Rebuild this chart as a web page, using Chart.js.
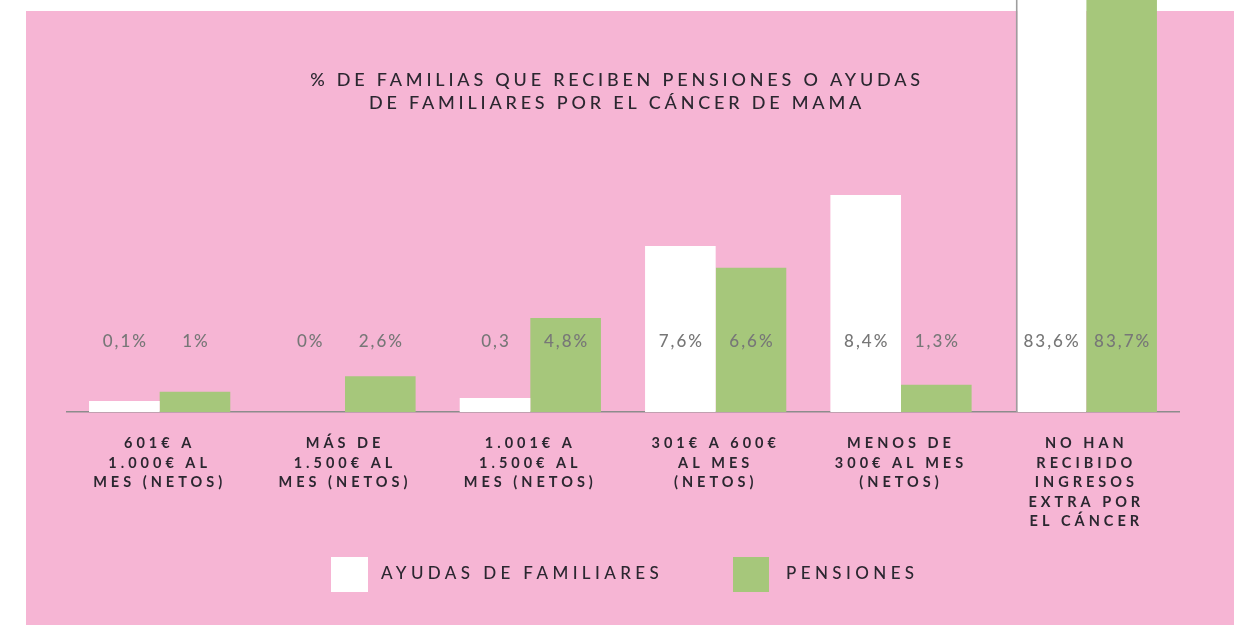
<!DOCTYPE html>
<html>
<head>
<meta charset="utf-8">
<script src="https://cdn.jsdelivr.net/npm/chart.js@4.4.0/dist/chart.umd.min.js"></script>
<style>
  html, body { margin: 0; padding: 0; background: #fff; }
  #bg { position: absolute; left: 26px; top: 11px; width: 1208px; height: 614px; background: #f6b5d4; }
  #wrap { position: absolute; left: 0; top: 0; width: 1245px; height: 625px; }
</style>
</head>
<body>
<div id="bg"></div>
<div id="wrap"><canvas id="FamiliasChart"></canvas></div>
<script>
const titleLines = ['% DE FAMILIAS QUE RECIBEN PENSIONES O AYUDAS', 'DE FAMILIARES POR EL CÁNCER DE MAMA'];

const categories = [
    ['601€ A', '1.000€ AL', 'MES (NETOS)'],
    ['MÁS DE', '1.500€ AL', 'MES (NETOS)'],
    ['1.001€ A', '1.500€ AL', 'MES (NETOS)'],
    ['301€ A 600€', 'AL MES', '(NETOS)'],
    ['MENOS DE', '300€ AL MES', '(NETOS)'],
    ['NO HAN', 'RECIBIDO', 'INGRESOS', 'EXTRA POR', 'EL CÁNCER']
];

const seriesNames = ['AYUDAS DE FAMILIARES', 'PENSIONES'];

// texts printed above the bars
const ayudasLabels = ['0,1%', '0%', '0,3', '7,6%', '8,4%', '83,6%'];
const pensionesLabels = ['1%', '2,6%', '4,8%', '6,6%', '1,3%', '83,7%'];

// bar heights as drawn in the picture (the original is not to scale)
const ayudasBars = [2.7, 0, 3.4, 40.3, 52.7, 110];
const pensionesBars = [4.9, 8.7, 22.8, 35, 6.6, 110];

const white = '#ffffff';
const green = '#a6c77b';
const fontName = 'Lato, "Open Sans", sans-serif';

const textPlugin = {
    id: 'textPlugin',
    beforeUpdate(chart) { chart.ctx.letterSpacing = '4px'; },
    beforeDraw(chart) { chart.ctx.letterSpacing = '4px'; },
    afterDatasetsDraw(chart) {
        const ctx = chart.ctx;
        ctx.save();
        ctx.letterSpacing = '2px';
        ctx.font = '500 17px ' + fontName;
        ctx.fillStyle = '#777777';
        ctx.textAlign = 'center';
        ctx.textBaseline = 'middle';
        const y = chart.scales.x.top - 70;
        [ayudasLabels, pensionesLabels].forEach(function (labs, d) {
            chart.getDatasetMeta(d).data.forEach(function (bar, i) {
                ctx.fillText(labs[i], bar.x + 1, y);
            });
        });
        ctx.restore();
    },
    afterDraw(chart) {
        const ctx = chart.ctx;
        ctx.save();
        // title
        ctx.letterSpacing = '3.8px';
        ctx.font = '500 18px ' + fontName;
        ctx.fillStyle = '#2b2730';
        ctx.textAlign = 'center';
        ctx.textBaseline = 'middle';
        ctx.fillText(titleLines[0], 617, 80);
        ctx.fillText(titleLines[1], 617, 103);
        // legend
        ctx.letterSpacing = '4.4px';
        ctx.font = '500 17px ' + fontName;
        ctx.textAlign = 'left';
        ctx.fillStyle = white;
        ctx.fillRect(331, 557, 37, 35);
        ctx.fillStyle = green;
        ctx.fillRect(733, 557, 36, 35);
        ctx.fillStyle = '#2b2730';
        ctx.fillText(seriesNames[0], 381, 574);
        ctx.fillText(seriesNames[1], 786, 574);
        ctx.restore();
    }
};

const chart1 = new Chart(
    document.getElementById('FamiliasChart'),
    {
        type: 'bar',
        data: {
            labels: categories,
            datasets: [{
                label: seriesNames[0],
                data: ayudasBars,
                backgroundColor: white,
                borderColor: '#9e9e9e',
                borderWidth: function (c) { return c.dataIndex === 5 ? { left: 2, top: 0, right: 0, bottom: 0 } : 0; },
                borderSkipped: false
            }, {
                label: seriesNames[1],
                data: pensionesBars,
                backgroundColor: green,
                borderWidth: 0
            }]
        },
        options: {
            responsive: true,
            maintainAspectRatio: false,
            animation: false,
            categoryPercentage: 0.762,
            barPercentage: 1,
            layout: {
                padding: { left: 67, right: 66, top: 0, bottom: 85 }
            },
            plugins: {
                legend: { display: false },
                title: { display: false },
                tooltip: { enabled: false }
            },
            scales: {
                x: {
                    grid: { display: false, drawTicks: false },
                    border: { display: true, color: '#8c8c8c', width: 1.5 },
                    ticks: {
                        color: '#2b2730',
                        padding: 22,
                        maxRotation: 0,
                        autoSkip: false,
                        font: { family: fontName, size: 14.5, weight: '700', lineHeight: 1.34 }
                    },
                    afterFit: function (scale) { scale.height = 128; }
                },
                y: {
                    display: false,
                    min: 0,
                    max: 100
                }
            }
        },
        plugins: [textPlugin]
    }
);
</script>
</body>
</html>
